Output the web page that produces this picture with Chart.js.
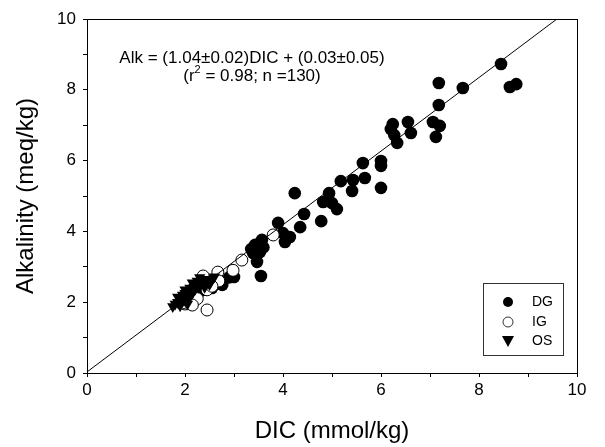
<!DOCTYPE html>
<html>
<head>
<meta charset="utf-8">
<script src="https://cdn.jsdelivr.net/npm/chart.js@4.4.1/dist/chart.umd.min.js"></script>
<style>
  html, body { margin: 0; padding: 0; background: #fff; }
  #wrap { width: 605px; height: 447px; }
</style>
</head>
<body>
<div id="wrap"><canvas id="alkChart"></canvas></div>
<script>
// DG = filled circles, IG = open circles, OS = down triangles  [DIC, Alk]
const dgPoints = [
  [8.45, 8.73], [8.63, 8.08], [8.76, 8.16], [7.67, 8.05], [7.18, 8.19], [7.18, 7.57],
  [7.06, 7.09], [7.20, 6.98], [7.12, 6.67], [6.24, 7.03], [6.20, 6.89], [6.27, 6.72],
  [6.33, 6.50], [6.55, 7.09], [6.61, 6.78], [5.63, 5.93], [6.00, 5.99], [6.00, 5.85],
  [6.00, 5.23], [5.18, 5.42], [5.43, 5.45], [5.67, 5.51], [5.41, 5.14], [4.94, 5.08],
  [4.82, 4.83], [5.00, 4.80], [5.10, 4.63], [4.24, 5.08], [4.43, 4.49], [4.35, 4.12],
  [4.78, 4.29], [4.14, 3.84], [3.90, 4.24], [4.00, 3.95], [4.04, 3.70], [3.57, 3.76],
  [3.43, 3.62], [3.53, 3.42], [3.39, 3.39], [3.47, 3.14], [3.35, 3.50], [3.60, 3.55],
  [3.00, 2.71], [3.55, 2.74], [2.76, 2.49], [2.90, 2.70], [2.60, 2.50], [2.50, 2.60],
  [2.40, 2.35], [2.30, 2.30], [2.20, 2.20], [2.10, 2.05], [2.20, 2.45], [2.00, 2.10],
  [2.35, 2.40], [2.55, 2.40]
];
const igPoints = [
  [3.80, 3.90], [3.16, 3.19], [2.98, 2.90], [2.67, 2.85], [2.69, 2.60], [2.45, 1.78],
  [2.37, 2.74], [2.45, 2.35], [2.55, 2.45], [2.00, 1.95], [2.10, 2.00], [2.25, 2.10],
  [2.05, 2.20], [1.95, 1.98], [2.30, 2.55], [2.15, 1.92]
];
const osPoints = [
  [1.85, 2.00], [1.90, 2.10], [1.95, 2.20], [1.80, 1.95], [2.00, 2.05], [2.05, 2.30],
  [2.10, 2.40], [2.15, 2.25], [2.20, 2.50], [2.25, 2.60], [2.30, 2.70], [2.35, 2.55],
  [1.90, 1.90], [2.00, 2.35], [2.10, 2.15], [2.20, 2.35], [2.40, 2.65], [1.95, 2.05],
  [2.05, 1.95], [2.15, 2.55], [2.30, 2.45], [2.45, 2.55], [1.85, 2.15], [2.00, 2.25],
  [2.50, 2.50], [2.55, 2.65], [2.60, 2.72], [1.75, 1.88], [2.40, 2.42]
];
const fitLine = [[0, 0.03], [9.59, 10]];
const axisTicks = [0, 2, 4, 6, 8, 10];
const legendItems = ['DG', 'IG', 'OS'];
const eqLine1 = 'Alk = (1.04\u00b10.02)DIC + (0.03\u00b10.05)';
const eqLine2a = '(r';
const eqLine2b = ' = 0.98; n =130)';

const toXY = arr => arr.map(p => ({ x: p[0], y: p[1] }));
const FONT = '"Liberation Sans", Arial, sans-serif';

// frame, equation text and legend box
const decorations = {
  id: 'decorations',
  afterDraw(chart) {
    const { ctx, chartArea: a } = chart;
    ctx.save();
    ctx.strokeStyle = '#000';
    ctx.lineWidth = 1;
    ctx.strokeRect(a.left + 0.5, a.top + 0.5, a.right - a.left, a.bottom - a.top);

    // equation
    ctx.fillStyle = '#000';
    ctx.textBaseline = 'middle';
    ctx.font = '17px ' + FONT;
    ctx.textAlign = 'center';
    ctx.fillText(eqLine1, 252, 58);
    const w1 = ctx.measureText(eqLine2a).width;
    const w3 = ctx.measureText(eqLine2b).width;
    ctx.font = '11px ' + FONT;
    const w2 = ctx.measureText('2').width;
    let x = 252 - (w1 + w2 + w3) / 2;
    ctx.textAlign = 'left';
    ctx.font = '17px ' + FONT;
    ctx.fillText(eqLine2a, x, 76);
    ctx.font = '11px ' + FONT;
    ctx.fillText('2', x + w1, 70);
    ctx.font = '17px ' + FONT;
    ctx.fillText(eqLine2b, x + w1 + w2, 76);

    // legend
    ctx.strokeStyle = '#333';
    ctx.strokeRect(483.5, 283.5, 80, 72);
    const rows = [302, 322, 341];
    ctx.font = '14px ' + FONT;
    legendItems.forEach((lab, i) => {
      const cy = rows[i];
      ctx.beginPath();
      if (i === 2) {
        ctx.moveTo(502, cy - 5);
        ctx.lineTo(514, cy - 5);
        ctx.lineTo(508, cy + 6);
        ctx.closePath();
        ctx.fill();
      } else {
        ctx.arc(508, cy, 5, 0, Math.PI * 2);
        if (i === 0) ctx.fill();
        else { ctx.fillStyle = '#fff'; ctx.fill(); ctx.fillStyle = '#000'; ctx.stroke(); }
      }
      ctx.fillStyle = '#000';
      ctx.fillText(lab, 532, cy);
    });
    ctx.restore();
  }
};

new Chart(document.getElementById('alkChart'), {
  type: 'scatter',
  data: {
    datasets: [
      {
        type: 'line', label: 'fit', data: toXY(fitLine),
        borderColor: '#000', borderWidth: 1, pointRadius: 0, fill: false
      },
      {
        label: 'OS', data: toXY(osPoints), pointStyle: 'triangle', pointRadius: 6.5,
        rotation: 180, backgroundColor: '#000', borderColor: '#000', borderWidth: 0
      },
      {
        label: 'IG', data: toXY(igPoints), pointStyle: 'circle', pointRadius: 6,
        backgroundColor: '#fff', borderColor: '#000', borderWidth: 1
      },
      {
        label: 'DG', data: toXY(dgPoints), pointStyle: 'circle', pointRadius: 6.3,
        backgroundColor: '#000', borderColor: '#000', borderWidth: 0
      }
    ]
  },
  options: {
    responsive: true,
    maintainAspectRatio: false,
    animation: false,
    devicePixelRatio: 1,
    layout: { padding: { left: 0, right: 28, top: 19, bottom: 0 } },
    plugins: { legend: { display: false }, tooltip: { enabled: false } },
    scales: {
      x: {
        type: 'linear', min: 0, max: 10,
        afterFit: s => { s.height = 74; },
        border: { display: true, color: '#000', width: 1 },
        grid: { drawOnChartArea: false, drawTicks: true, tickLength: 4, color: '#000' },
        ticks: {
          stepSize: 1, autoSkip: false, maxRotation: 0, padding: 3,
          color: '#000', font: { family: FONT, size: 17 },
          callback: v => axisTicks.includes(v) ? String(v) : ''
        },
        title: {
          display: true, text: 'DIC (mmol/kg)', color: '#000',
          font: { family: FONT, size: 24 }, padding: { top: 0, bottom: 1 }
        }
      },
      y: {
        type: 'linear', min: 0, max: 10,
        afterFit: s => { s.width = 87; },
        border: { display: true, color: '#000', width: 1 },
        grid: { drawOnChartArea: false, drawTicks: true, tickLength: 4, color: '#000' },
        ticks: {
          stepSize: 1, autoSkip: false, padding: 7,
          color: '#000', font: { family: FONT, size: 17 },
          callback: v => axisTicks.includes(v) ? String(v) : ''
        },
        title: {
          display: true, text: 'Alkalinity (meq/kg)', color: '#000',
          font: { family: FONT, size: 24 }, padding: { top: 12, bottom: 0 }
        }
      }
    }
  },
  plugins: [decorations]
});
</script>
</body>
</html>
